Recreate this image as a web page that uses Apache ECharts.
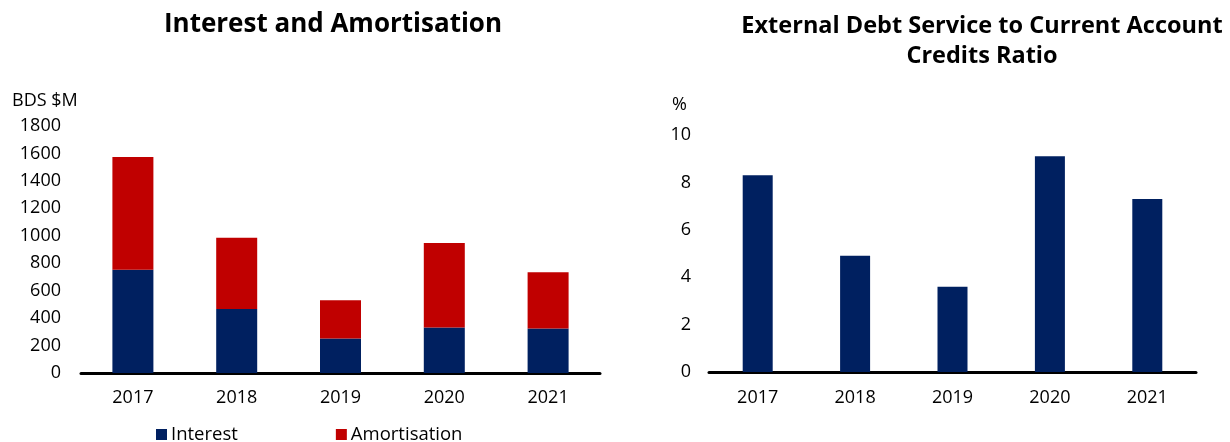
<!DOCTYPE html>
<html>
<head>
<meta charset="utf-8">
<script src="https://cdn.jsdelivr.net/npm/echarts@6/dist/echarts.min.js"></script>
<style>
  html, body { margin: 0; padding: 0; background: #fff; }
  #chart { width: 1230px; height: 442px; }
</style>
</head>
<body>
<div id="chart"></div>
<script>
// Years shown on both panels
const years = ['2017', '2018', '2019', '2020', '2021'];
// Debt service components, BDS $M
const interest = [752, 467, 252, 331, 324];
const amortisation = [823, 518, 278, 617, 411];
// External debt service / current account credits, %
const debtServiceRatio = [8.3, 4.9, 3.6, 9.1, 7.3];

const NAVY = '#002060';
const RED = '#C00000';
const FONT = '"Open Sans", "Noto Sans", sans-serif';

const chart = echarts.init(document.getElementById('chart'), null, { renderer: 'canvas' });

// Plain integers, no thousands separators
const plain = v => String(v);
const axisLabel = { color: '#000', fontFamily: FONT, fontSize: 18 };

chart.setOption({
  animation: false,
  backgroundColor: '#fff',
  textStyle: { fontFamily: FONT },
  title: [
    {
      text: 'Interest and Amortisation',
      left: 328, top: 7, textAlign: 'center',
      textStyle: { fontFamily: FONT, fontSize: 26, fontWeight: 'bold', color: '#000' }
    },
    {
      text: 'External Debt Service to Current Account\nCredits Ratio',
      left: 977, top: 6, textAlign: 'center',
      textStyle: { fontFamily: FONT, fontSize: 23.5, fontWeight: 'bold', color: '#000', lineHeight: 30 }
    }
  ],
  graphic: [
    { type: 'text', left: 12, top: 92, style: { text: 'BDS $M', font: '18px ' + FONT, fill: '#000' } },
    { type: 'text', left: 672, top: 96, style: { text: '%', font: '18px ' + FONT, fill: '#000' } }
  ],
  legend: {
    left: 151, top: 420,
    itemWidth: 11, itemHeight: 11, itemGap: 98,
    icon: 'rect',
    textStyle: { fontFamily: FONT, fontSize: 18.5, color: '#000', padding: [0, 0, 0, -1] },
    data: ['Interest', 'Amortisation']
  },
  grid: [
    { left: 81, right: 630, top: 126, bottom: 69 },
    { left: 709, right: 34, top: 135, bottom: 70 }
  ],
  xAxis: [
    {
      type: 'category', gridIndex: 0, data: years,
      axisLine: { lineStyle: { color: '#000', width: 3 } },
      axisTick: { show: false },
      axisLabel: Object.assign({ margin: 16 }, axisLabel)
    },
    {
      type: 'category', gridIndex: 1, data: years,
      axisLine: { lineStyle: { color: '#000', width: 3 } },
      axisTick: { show: false },
      axisLabel: Object.assign({ margin: 17 }, axisLabel)
    }
  ],
  yAxis: [
    {
      type: 'value', gridIndex: 0, min: 0, max: 1800, interval: 200,
      axisLine: { show: false }, axisTick: { show: false }, splitLine: { show: false },
      axisLabel: Object.assign({ margin: 20, formatter: plain }, axisLabel)
    },
    {
      type: 'value', gridIndex: 1, min: 0, max: 10, interval: 2,
      axisLine: { show: false }, axisTick: { show: false }, splitLine: { show: false },
      axisLabel: Object.assign({ margin: 18, formatter: plain }, axisLabel)
    }
  ],
  series: [
    {
      name: 'Interest', type: 'bar', stack: 'debt', xAxisIndex: 0, yAxisIndex: 0,
      data: interest, barWidth: 41, itemStyle: { color: NAVY }
    },
    {
      name: 'Amortisation', type: 'bar', stack: 'debt', xAxisIndex: 0, yAxisIndex: 0,
      data: amortisation, barWidth: 41, itemStyle: { color: RED }
    },
    {
      name: 'Debt service ratio', type: 'bar', xAxisIndex: 1, yAxisIndex: 1,
      data: debtServiceRatio, barWidth: 30, itemStyle: { color: NAVY }
    }
  ]
});
</script>
</body>
</html>
